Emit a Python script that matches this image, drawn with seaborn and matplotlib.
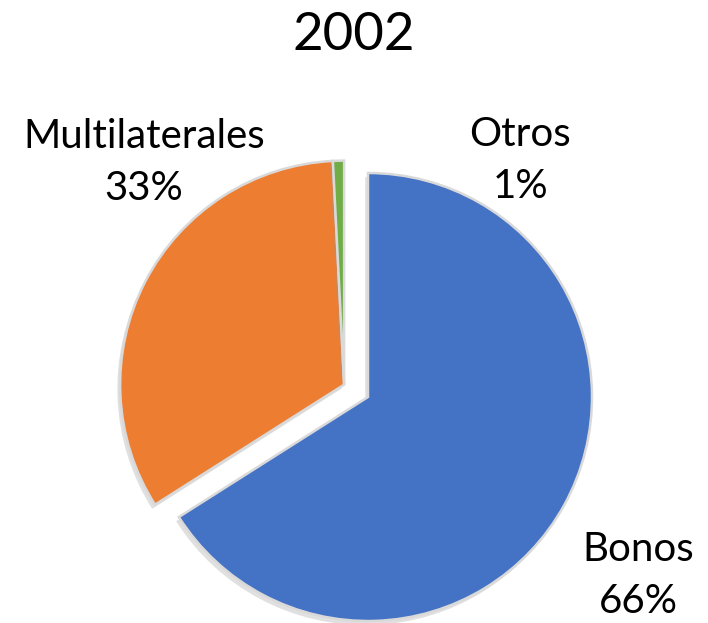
import matplotlib
matplotlib.use("Agg")
import matplotlib.pyplot as plt
import matplotlib.patheffects as pe
import seaborn as sns

# data
categories = ["Bonos", "Multilaterales", "Otros"]
shares = [66.0, 33.2, 0.8]
pct_labels = ["66%", "33%", "1%"]
colors = ["#4472C4", "#ED7D31", "#70AD47"]
explode = [0, 0.12, 0.12]
title = "2002"

sns.set_theme(style="white")
plt.rcParams["font.family"] = ["Lato", "DejaVu Sans"]

fig = plt.figure(figsize=(7.08, 6.23), dpi=100)
ax = fig.add_axes([0, 0, 1, 1])

wedges, _ = ax.pie(shares, colors=colors, explode=explode, startangle=90,
                   counterclock=False, radius=1.0,
                   wedgeprops=dict(edgecolor="#d9d9d9", linewidth=1.8))
# Otros sits with Multilaterales (shifted together)
wedges[2].set_center(wedges[1].center)

for w in wedges:
    w.set_path_effects([pe.SimplePatchShadow(offset=(-2, -3), shadow_rgbFace="#999999", alpha=0.3),
                        pe.Normal()])

# scale: 224 px per unit, pie centre at pixel (368, 397)
ax.set_xlim(-368 / 224, (708 - 368) / 224)
ax.set_ylim(-(623 - 397) / 224, 397 / 224)
ax.set_aspect("equal")
ax.axis("off")

label_pos = {"Multilaterales": (-1.0, 1.045), "Otros": (0.68, 1.055), "Bonos": (1.205, -0.795)}
for cat, pct in zip(categories, pct_labels):
    x, y = label_pos[cat]
    ax.text(x, y, f"{cat}\n{pct}", ha="center", va="center", fontsize=29,
            linespacing=1.5, color="black")

fig.text(0.5, 1 - 35 / 623, title, ha="center", va="center", fontsize=38, color="black")

fig.savefig("out.png", dpi=100)
